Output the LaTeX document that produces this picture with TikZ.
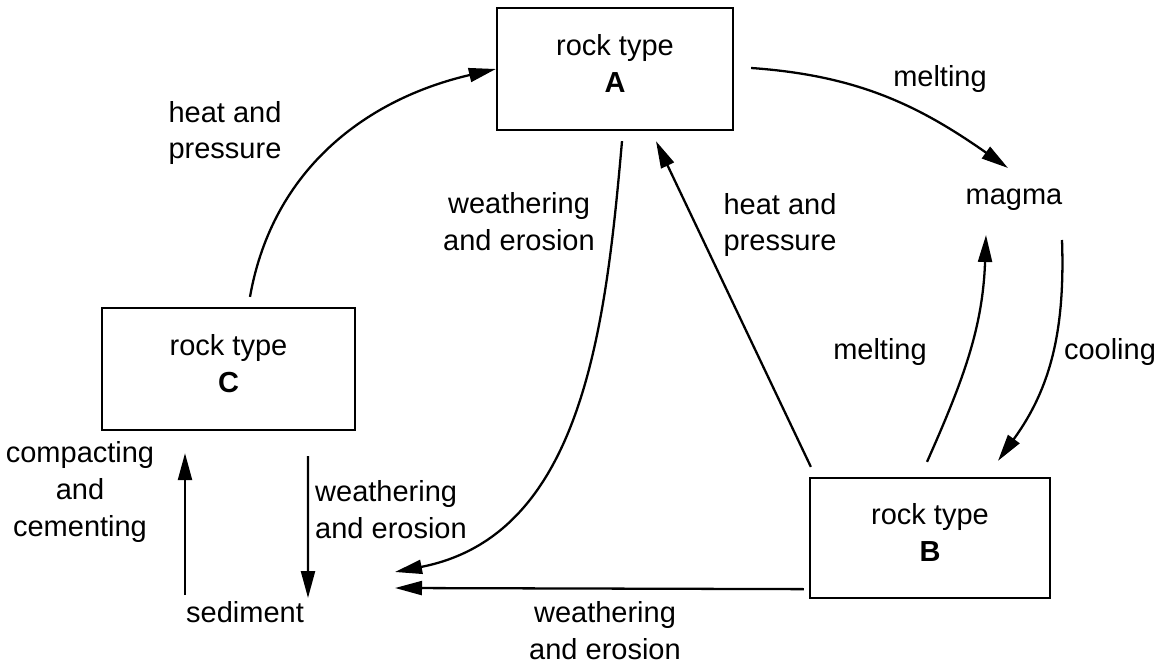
\documentclass[tikz,border=0pt]{standalone}
\usepackage{fontspec}
\setmainfont{Liberation Sans}
\usetikzlibrary{arrows.meta,
                calc,
                positioning}
\newcommand{\rocktext}{\fontsize{16.5}{21}\selectfont}
\tikzset{rock/.style={draw,line width=1.3pt},
         lbl/.style={align=center,font=\rocktext},
         flow/.style={line width=1.3pt,-{Triangle[length=5.4mm,width=2.8mm]}}}

\begin{document}
\begin{tikzpicture}[x=0.2mm,y=0.2mm]
 \useasboundingbox (0,0) rectangle (1159,666);
 \node[rock,minimum width=47.2mm,minimum height=24.4mm] (A) at (615,597) {};
 \node[rock,minimum width=50.6mm,minimum height=24.4mm] (C) at (228.5,297) {};
 \node[rock,minimum width=48mm,minimum height=24mm] (B) at (930,128) {};
 \node[lbl] (Atext) at ([yshift=3pt]A.center) {rock type\\\textbf{A}};
 \node[lbl] (Ctext) at ([yshift=3pt]C.center) {rock type\\\textbf{C}};
 \node[lbl] (Btext) at ([yshift=3pt]B.center) {rock type\\\textbf{B}};
 \node[lbl] (magma) at (1014,466) {magma};
 \node[lbl] (sediment) at (245,54) {sediment};

 \node[lbl] (heatC) at (225,533) {heat and\\pressure};
 \node[lbl] (meltA) at (940,587) {melting};
 \node[lbl] (weathA) at (519,444) {weathering\\and erosion};
 \node[lbl] (heatB) at (780,441) {heat and\\pressure};
 \node[lbl] (meltB) at (880,314) {melting};
 \node[lbl] (cool) at (1110,314) {cooling};
 \node[lbl,align=left] (weathC) at (391,156) {weathering\\and erosion};
 \node[lbl] (compact) at (80,174) {compacting\\and\\cementing};
 \node[lbl] (weathB) at (605,35) {weathering\\and erosion};

 \draw[flow] ($(C.north)+(21.5,10)$) to[out=80,in=193] (A.west);
 \draw[flow] ($(A.east)+(17,1)$) to[out=-4,in=145] ($(magma)+(-6,32)$);
 \draw[flow] ($(magma)+(48,-40)$) to[out=-88,in=54] ($(B.north)+(68,16)$);
 \draw[flow] ($(B.north)+(-3,15)$) to[out=66,in=268] ($(magma)+(-28,-35)$);
 \draw[flow] ($(B.north west)+(2,10)$) -- ($(A.south)+(41,-10)$);
 \draw[flow] ($(A.south)+(7,-10)$) to[out=-95,in=11] ($(sediment)+(150,40)$);
 \draw[flow] ($(B.south west)+(-5,10)$) -- ($(sediment)+(150,24)$);
 \draw[flow] ($(sediment)+(-60,17)$) -- ($(C.south)+(-43.5,-22)$);
 \draw[flow] ($(C.south)+(79.5,-25)$) -- ($(sediment)+(63,14)$);
\end{tikzpicture}
\end{document}
